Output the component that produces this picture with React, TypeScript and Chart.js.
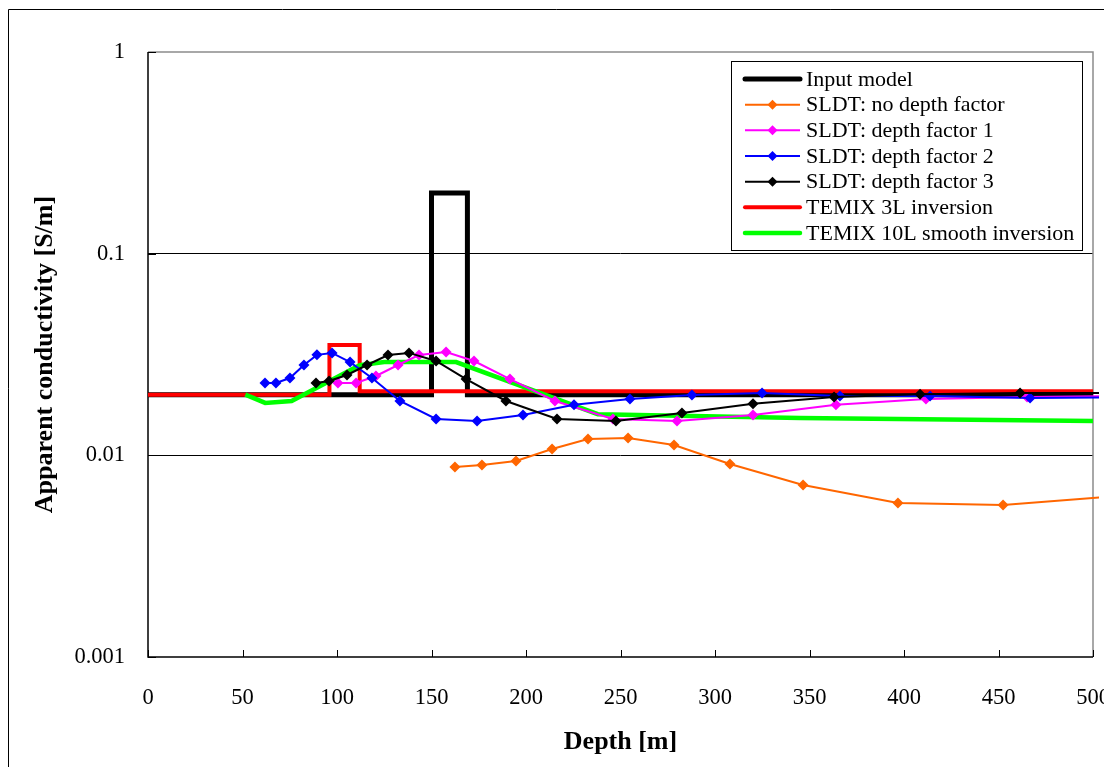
import React, { useEffect, useRef } from "react";
import { Chart, registerables } from "chart.js";

Chart.register(...registerables);

// ---------- data ----------
const seriesNames = [
  "Input model",
  "SLDT: no depth factor",
  "SLDT: depth factor 1",
  "SLDT: depth factor 2",
  "SLDT: depth factor 3",
  "TEMIX 3L inversion",
  "TEMIX 10L smooth inversion",
];

const inputDepth = [0, 150, 150, 169, 169, 500];
const inputCond = [0.02, 0.02, 0.2, 0.2, 0.02, 0.02];

const noFactorDepth = [162.4, 176.7, 194.7, 213.8, 232.8, 254.0, 278.3, 307.9, 346.6, 396.8, 452.4, 515];
const noFactorCond = [0.00875, 0.00896, 0.00938, 0.01074, 0.01205, 0.0122, 0.01125, 0.00906, 0.00713, 0.0058, 0.00567, 0.0063];

const factor1Depth = [100.5, 110.1, 120.6, 132.3, 143.4, 157.7, 172.5, 191.5, 215.3, 246.0, 279.9, 320.1, 364.0, 411.6, 465.1, 520];
const factor1Cond = [0.02285, 0.02285, 0.02474, 0.02805, 0.03144, 0.03255, 0.02936, 0.0239, 0.0186, 0.01514, 0.0148, 0.01585, 0.0178, 0.019, 0.01947, 0.0197];

const factor2Depth = [61.9, 67.7, 75.1, 82.5, 89.4, 97.4, 106.9, 118.5, 133.3, 152.4, 174.1, 198.4, 225.4, 255.0, 287.8, 324.9, 366.1, 413.8, 466.7, 520];
const factor2Cond = [0.02285, 0.02285, 0.02417, 0.02805, 0.0315, 0.0322, 0.029, 0.0242, 0.0186, 0.01514, 0.0148, 0.01585, 0.0178, 0.019, 0.0199, 0.0204, 0.0197, 0.0197, 0.01925, 0.0194];

const factor3Depth = [88.9, 95.8, 105.3, 115.9, 127.0, 138.1, 152.4, 168.3, 189.4, 216.4, 247.6, 282.5, 320.1, 363.0, 408.5, 461.4, 520];
const factor3Cond = [0.02285, 0.02336, 0.02503, 0.02805, 0.03144, 0.0322, 0.02936, 0.0239, 0.0186, 0.01514, 0.0148, 0.0162, 0.018, 0.01947, 0.0201, 0.0204, 0.0204];

const temix3Depth = [0, 96, 96, 112, 112, 500];
const temix3Cond = [0.02, 0.02, 0.0352, 0.0352, 0.0208, 0.0208];

const temix10Depth = [51.5, 62, 76, 112, 125, 163, 238, 345, 500];
const temix10Cond = [0.02, 0.0182, 0.0186, 0.028, 0.029, 0.029, 0.016, 0.0153, 0.0148];

const xMin = 0;
const xMax = 500;
const xStep = 50;
const yTickValues = [1, 0.1, 0.01, 0.001];
const yTickLabels = ["1", "0.1", "0.01", "0.001"];
const xTitle = "Depth [m]";
const yTitle = "Apparent conductivity [S/m]";

// ---------- styles ----------
const FONT = "'Liberation Serif', 'Times New Roman', serif";
const colors = ["#000000", "#FF6600", "#FF00FF", "#0000FF", "#000000", "#FF0000", "#00FF00"];
const widths = [5, 2, 2, 2, 2, 4, 4.5];
const markers = [0, 5.5, 5.5, 5.5, 5.5, 0, 0];
const drawOrder = [7, 4, 3, 2, 1, 6, 5];

const zip = (xs: number[], ys: number[]) => xs.map((x, i) => ({ x, y: ys[i] }));

const legendPlugin = {
  id: "customLegend",
  afterDatasetsDraw(chart: any) {
    const { ctx, chartArea: a } = chart;
    const left = a.right - 361.5;
    const top = a.top + 9.5;
    const w = 351;
    const h = 189;
    ctx.save();
    ctx.fillStyle = "#ffffff";
    ctx.fillRect(left, top, w, h);
    ctx.strokeStyle = "#000000";
    ctx.lineWidth = 1;
    ctx.strokeRect(left, top, w, h);
    const row0 = top + 17.5;
    const step = 25.67;
    const x1 = left + 13.5;
    const x2 = left + 68.5;
    chart.data.datasets.forEach((ds: any, i: number) => {
      const y = row0 + i * step;
      ctx.beginPath();
      ctx.strokeStyle = ds.borderColor;
      ctx.lineWidth = ds.borderWidth;
      ctx.lineCap = ds.borderWidth > 3 ? "round" : "butt";
      ctx.moveTo(x1, y);
      ctx.lineTo(x2, y);
      ctx.stroke();
      if (ds.pointRadius > 0) {
        const cx = (x1 + x2) / 2;
        const r = 5;
        ctx.beginPath();
        ctx.fillStyle = ds.borderColor;
        ctx.moveTo(cx, y - r);
        ctx.lineTo(cx + r, y);
        ctx.lineTo(cx, y + r);
        ctx.lineTo(cx - r, y);
        ctx.closePath();
        ctx.fill();
      }
      ctx.fillStyle = "#000000";
      ctx.font = `22px ${FONT}`;
      ctx.textBaseline = "middle";
      ctx.textAlign = "left";
      ctx.fillText(ds.label, x2 + 6, y + 1);
    });
    ctx.restore();
  },
};

const framePlugin = {
  id: "frame",
  beforeDatasetsDraw(chart: any) {
    const { ctx, chartArea: a, scales } = chart;
    ctx.save();
    ctx.lineWidth = 1.5;
    ctx.strokeStyle = "#8c8c8c";
    ctx.beginPath();
    ctx.moveTo(a.left, a.top);
    ctx.lineTo(a.right, a.top);
    ctx.lineTo(a.right, a.bottom);
    ctx.stroke();
    ctx.strokeStyle = "#000000";
    ctx.beginPath();
    ctx.moveTo(a.left, a.top);
    ctx.lineTo(a.left, a.bottom);
    ctx.lineTo(a.right, a.bottom);
    ctx.stroke();
    ctx.lineWidth = 1;
    ctx.beginPath();
    scales.x.ticks.forEach((t: any) => {
      const px = Math.round(scales.x.getPixelForValue(t.value)) + 0.5;
      ctx.moveTo(px, a.bottom);
      ctx.lineTo(px, a.bottom - 7);
    });
    scales.y.ticks.forEach((t: any) => {
      const py = Math.round(scales.y.getPixelForValue(t.value)) + 0.5;
      ctx.moveTo(a.left, py);
      ctx.lineTo(a.left + 8, py);
    });
    ctx.stroke();
    ctx.restore();
  },
  afterDraw(chart: any) {
    const { ctx, width, height } = chart;
    ctx.save();
    ctx.strokeStyle = "#000000";
    ctx.lineWidth = 1;
    ctx.beginPath();
    ctx.moveTo(0.5, height);
    ctx.lineTo(0.5, 1.5);
    ctx.lineTo(width, 1.5);
    ctx.stroke();
    ctx.restore();
  },
};

export default function App() {
  const ref = useRef<HTMLCanvasElement | null>(null);

  useEffect(() => {
    if (!ref.current) return;
    const series = [
      zip(inputDepth, inputCond),
      zip(noFactorDepth, noFactorCond),
      zip(factor1Depth, factor1Cond),
      zip(factor2Depth, factor2Cond),
      zip(factor3Depth, factor3Cond),
      zip(temix3Depth, temix3Cond),
      zip(temix10Depth, temix10Cond),
    ];
    const datasets = series.map((data, i) => ({
      label: seriesNames[i],
      data,
      borderColor: colors[i],
      backgroundColor: colors[i],
      borderWidth: widths[i],
      pointRadius: markers[i],
      pointStyle: "rectRot",
      pointBorderWidth: 0,
      pointBackgroundColor: colors[i],
      pointBorderColor: colors[i],
      tension: 0,
      order: drawOrder[i],
      clip: { left: 3, right: 6, top: 10, bottom: 10 },
    }));

    const chart = new Chart(ref.current, {
      type: "line",
      data: { datasets },
      plugins: [framePlugin, legendPlugin],
      options: {
        animation: false,
        responsive: false,
        parsing: true,
        layout: { padding: { top: 44, right: 11, left: 0, bottom: 0 } },
        plugins: { legend: { display: false }, tooltip: { enabled: false } },
        scales: {
          x: {
            type: "linear",
            min: xMin,
            max: xMax,
            grid: { display: false, drawTicks: false },
            border: { display: false },
            ticks: {
              stepSize: xStep,
              autoSkip: false,
              maxRotation: 0,
              padding: 28,
              color: "#000",
              font: { family: FONT, size: 22.5 },
            },
            title: {
              display: true,
              text: xTitle,
              color: "#000",
              font: { family: FONT, size: 26, weight: "bold" },
              padding: { top: 0, bottom: 9 },
            },
            afterFit: (s: any) => {
              s.height = 110;
              s.paddingLeft = 0;
              s.paddingRight = 0;
            },
          },
          y: {
            type: "logarithmic",
            min: 0.001,
            max: 1,
            grid: {
              drawTicks: false,
              lineWidth: 1,
              color: (c: any) =>
                c.tick && (c.tick.value === 0.1 || c.tick.value === 0.01) ? "#000000" : "rgba(0,0,0,0)",
            },
            border: { display: false },
            afterBuildTicks: (s: any) => {
              s.ticks = yTickValues.map((v) => ({ value: v }));
            },
            ticks: {
              padding: 23,
              color: "#000",
              font: { family: FONT, size: 22.5 },
              callback: (v: any) => {
                const idx = yTickValues.findIndex((t) => Math.abs(t - Number(v)) < 1e-12);
                return idx >= 0 ? yTickLabels[idx] : "";
              },
            },
            title: {
              display: true,
              text: yTitle,
              color: "#000",
              font: { family: FONT, size: 26, weight: "bold" },
              padding: { top: 22, bottom: 0 },
            },
            afterFit: (s: any) => {
              s.width = 140;
              s.paddingTop = 0;
              s.paddingBottom = 0;
            },
          },
        },
      } as any,
    });
    return () => chart.destroy();
  }, []);

  return (
    <div style={{ width: 1096, height: 759 }}>
      <canvas ref={ref} width={1096} height={759} style={{ display: "block" }} />
    </div>
  );
}
